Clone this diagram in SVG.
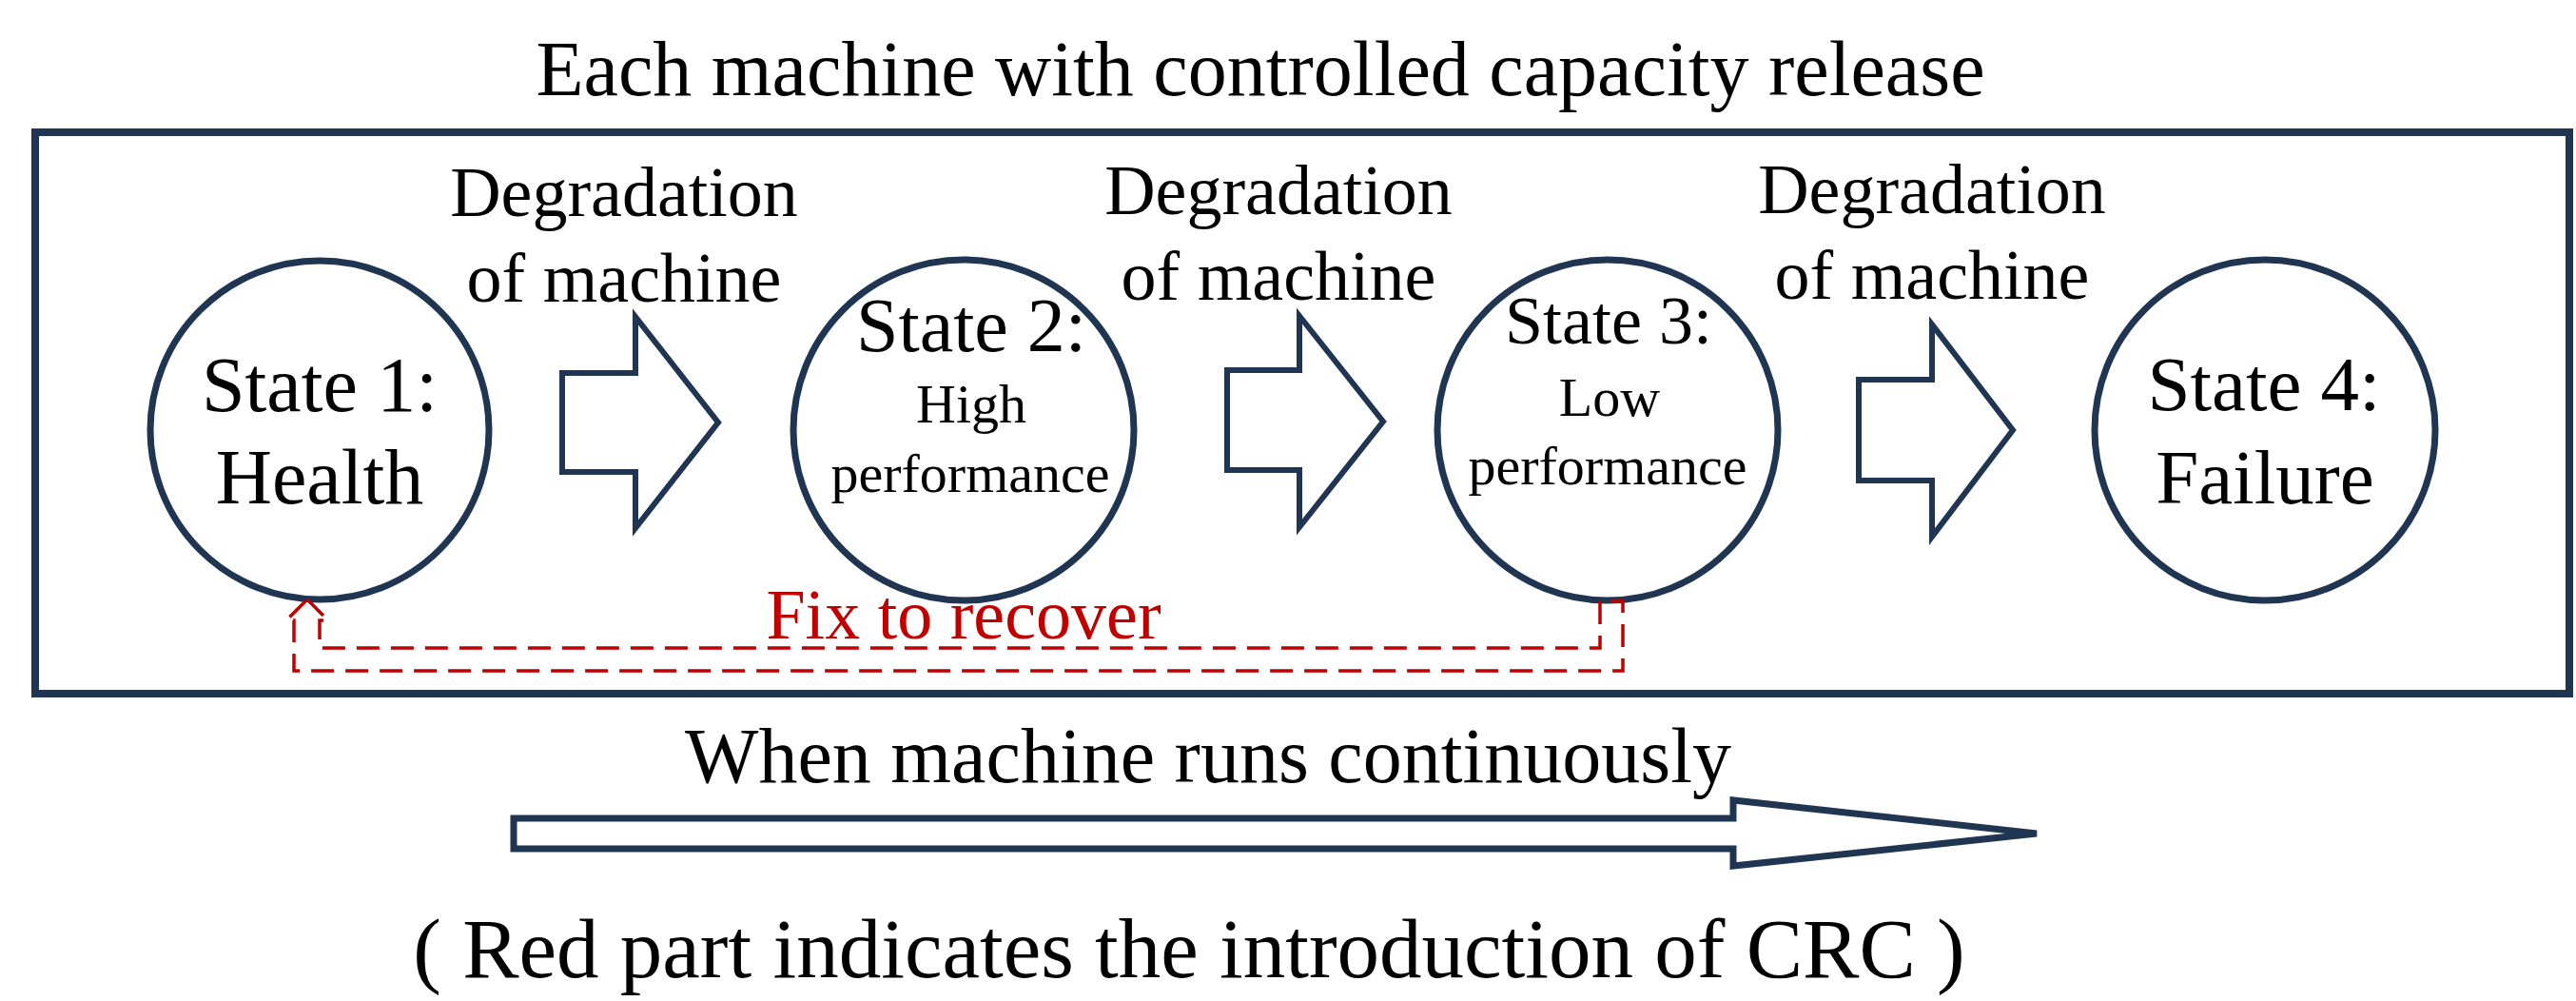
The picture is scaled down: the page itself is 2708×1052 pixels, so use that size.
<svg xmlns="http://www.w3.org/2000/svg" width="2708" height="1052" viewBox="0 0 2708 1052">
<style>
text{font-family:"Liberation Serif","Times New Roman",serif;fill:#000;text-anchor:middle}
.state{fill:#fff;stroke:#1f3552;stroke-width:7}
.blk{fill:#fff;stroke:#1f3552;stroke-width:6;stroke-linejoin:miter}
.deg{font-size:74px}
.red{fill:none;stroke:#c00000;stroke-width:3.5;stroke-dasharray:24 12}
</style>
<rect width="2708" height="1052" fill="#fff"/>
<text id="title" x="1325" y="100" font-size="82">Each machine with controlled capacity release</text>
<rect id="frame" x="37" y="139" width="2664" height="590" fill="none" stroke="#1f3552" stroke-width="8"/>

<g id="state1">
<circle class="state" cx="336" cy="452" r="178"/>
<text x="336" y="432" font-size="82">State 1:</text>
<text x="336" y="529" font-size="82">Health</text>
</g>
<g id="state2">
<circle class="state" cx="1013" cy="452" r="179"/>
<text x="1021" y="369" font-size="80">State 2:</text>
<text x="1021" y="444" font-size="58">High</text>
<text x="1020" y="517" font-size="58">performance</text>
</g>
<g id="state3">
<circle class="state" cx="1690" cy="452" r="179"/>
<text x="1691" y="361" font-size="72">State 3:</text>
<text x="1692" y="437" font-size="58">Low</text>
<text x="1690" y="509" font-size="58">performance</text>
</g>
<g id="state4">
<circle class="state" cx="2381" cy="452" r="179"/>
<text x="2380" y="431" font-size="81">State 4:</text>
<text x="2381" y="529" font-size="81">Failure</text>
</g>

<g id="connectors">
<g id="deg1">
<path class="blk" d="M591,392 L668,392 L668,333 L755,444 L668,555 L668,496 L591,496 Z"/>
<text class="deg" x="656" y="227">Degradation</text>
<text class="deg" x="656" y="317">of machine</text>
</g>
<g id="deg2">
<path class="blk" d="M1290,389 L1366,389 L1366,332 L1454,443 L1366,554 L1366,494 L1290,494 Z"/>
<text class="deg" x="1344" y="225">Degradation</text>
<text class="deg" x="1344" y="315">of machine</text>
</g>
<g id="deg3">
<path class="blk" d="M1954,399 L2031,399 L2031,341 L2116,452 L2031,564 L2031,505 L1954,505 Z"/>
<text class="deg" x="2031" y="224">Degradation</text>
<text class="deg" x="2031" y="314">of machine</text>
</g>
<g id="fix">
<path class="red" d="M323,630 L345,652 L336,652 L336,681 L1682,681 L1682,632 L1706,632 L1706,705 L309,705 L309,652 L301,652 Z"/>
<text x="1013" y="671" font-size="74" style="fill:#c00000">Fix to recover</text>
</g>
<g id="time">
<path fill="#fff" stroke="#1f3552" stroke-width="7" d="M540,860 L1822,860 L1822,841 L2141,876 L1822,910 L1822,892 L540,892 Z"/>
<text x="1270" y="822" font-size="82">When machine runs continuously</text>
</g>
</g>
<text id="note" x="1250" y="1027" font-size="89">( Red part indicates the introduction of CRC )</text>
</svg>
